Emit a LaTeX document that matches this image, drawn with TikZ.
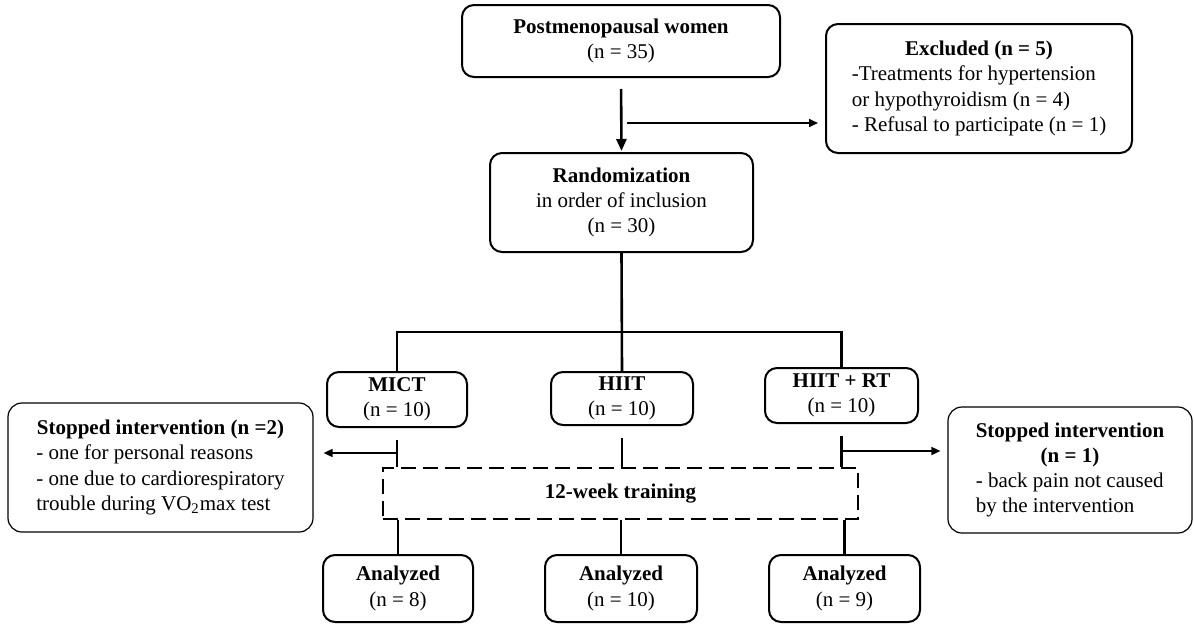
\documentclass[tikz,border=0pt]{standalone}
\usepackage{fontspec}
\setmainfont{Liberation Serif}
\usetikzlibrary{arrows.meta,calc}
\newcommand{\ctitle}[1]{\multicolumn{1}{@{}c@{}}{\textbf{#1}}}
\begin{document}
\begin{tikzpicture}[x=0.5pt,y=-0.5pt,
  every node/.style={font=\fontsize{10.5}{12.6}\selectfont},
  mainbox/.style={draw, line width=1pt, rounded corners=6pt, align=center, inner sep=0pt},
  sidebox/.style={draw, line width=0.6pt, rounded corners=7pt, inner sep=0pt},
  trainbox/.style={draw, line width=0.9pt, dash pattern=on 7.5pt off 3.5pt, inner sep=0pt, align=center},
  conn/.style={line width=1.3pt},
  bigarrow/.style={line width=1.3pt, -{Triangle[length=6pt,width=5pt]}},
  sidearrow/.style={line width=0.8pt, -{Triangle[length=4.5pt,width=4pt]}}
]
\useasboundingbox (0,0) rectangle (1194,627);

% boxes
\node[mainbox, minimum width=159pt, minimum height=36pt] (top) at (621,41)
  {\textbf{Postmenopausal women}\\(n = 35)};
\node[mainbox, minimum width=153pt, minimum height=64.5pt] (ex) at (979,88.5)
  {\begin{tabular}{@{}l@{}}\ctitle{Excluded (n = 5)}\\-Treatments for hypertension\\or hypothyroidism (n = 4)\\- Refusal to participate (n = 1)\end{tabular}};
\node[mainbox, minimum width=131.5pt, minimum height=49.5pt] (rand) at (621.5,202.5)
  {\textbf{Randomization}\\in order of inclusion\\(n = 30)};

\node[mainbox, minimum width=70pt, minimum height=27.5pt] (mict) at (397,399.5)
  {\textbf{MICT}\\(n = 10)};
\node[mainbox, minimum width=71pt, minimum height=26.5pt] (hiit) at (622,398.5)
  {\textbf{HIIT}\\(n = 10)};
\node[mainbox, minimum width=76.5pt, minimum height=27.5pt] (hrt) at (841.5,395.5)
  {\textbf{HIIT + RT}\\(n = 10)};

\node[sidebox, minimum width=152.5pt, minimum height=64.5pt] (s1) at (160.5,467.5)
  {\begin{tabular}{@{}l@{}}\ctitle{Stopped intervention (n =2)}\\- one for personal reasons\\- one due to cardiorespiratory\\trouble during VO\textsubscript{2}max test\end{tabular}};
\node[sidebox, minimum width=122pt, minimum height=63pt] (s2) at (1070,470)
  {\begin{tabular}{@{}l@{}}\ctitle{Stopped intervention}\\\ctitle{(n = 1)}\\- back pain not caused\\by the intervention\end{tabular}};

\node[trainbox, minimum width=237.5pt, minimum height=25.5pt] (train) at (620.5,493.5)
  {\textbf{12-week training}};

\node[mainbox, minimum width=75pt, minimum height=33.5pt] (a1) at (398,588.5)
  {\textbf{Analyzed}\\(n = 8)};
\node[mainbox, minimum width=76pt, minimum height=33.5pt] (a2) at (621,588.5)
  {\textbf{Analyzed}\\(n = 10)};
\node[mainbox, minimum width=75.5pt, minimum height=33.5pt] (a3) at (844.5,588.5)
  {\textbf{Analyzed}\\(n = 9)};

% connectors
\draw[bigarrow, shorten <=5.5pt, shorten >=0.5pt] (top.south) -- (rand.north);
\coordinate (exb) at (627,123);
\draw[sidearrow, shorten >=3.5pt] (exb) -- (exb -| ex.west);

\coordinate (split) at (621,332);
\draw[conn] (rand.south) -- (hiit.north);
\draw[conn] (mict.north) -- (mict.north |- split) -- (split -| hrt.north) -- (hrt.north);

\draw[conn, shorten <=6pt] (mict.south) -- (mict.south |- train.north);
\draw[conn, shorten <=6pt] (hiit.south) -- (hiit.south |- train.north);
\draw[conn, shorten <=6pt] (hrt.south) -- (hrt.south |- train.north);

\coordinate (m1) at (397,453);
\draw[sidearrow, shorten >=5pt] (m1) -- (m1 -| s1.east);
\coordinate (m3) at (841.5,451);
\draw[sidearrow, shorten >=3.5pt] (m3) -- (m3 -| s2.west);

\draw[conn] (a1.north |- train.south) -- (a1.north);
\draw[conn] (a2.north |- train.south) -- (a2.north);
\draw[conn] (a3.north |- train.south) -- (a3.north);
\end{tikzpicture}
\end{document}
